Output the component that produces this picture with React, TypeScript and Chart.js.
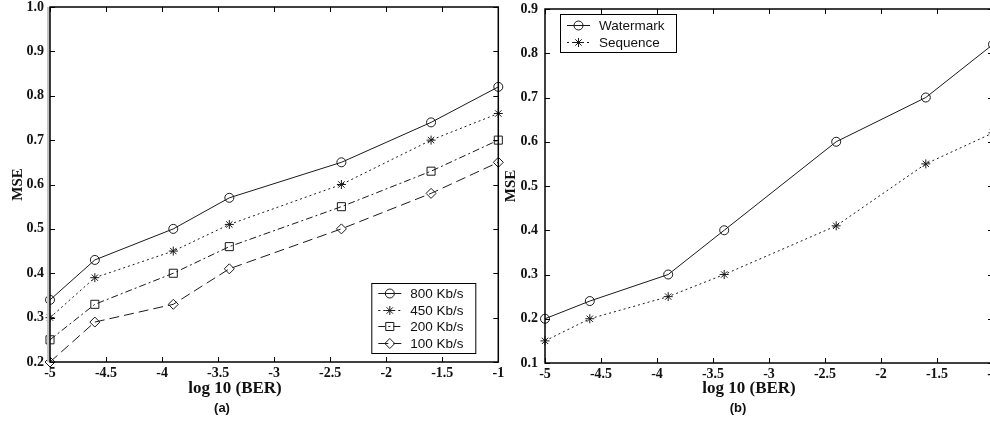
import React, { useEffect, useRef } from 'react';
import { Chart, registerables } from 'chart.js';
import { drawPoint } from 'chart.js/helpers';

Chart.register(...registerables);

// ---- data ----
const berX = [-5, -4.6, -3.9, -3.4, -2.4, -1.6, -1];
const xTicks = [-5, -4.5, -4, -3.5, -3, -2.5, -2, -1.5, -1];
const yTicksA = [0.2, 0.3, 0.4, 0.5, 0.6, 0.7, 0.8, 0.9, 1.0];
const yTicksB = [0.1, 0.2, 0.3, 0.4, 0.5, 0.6, 0.7, 0.8, 0.9];

const mse800 = [0.34, 0.43, 0.5, 0.57, 0.65, 0.74, 0.82];
const mse450 = [0.3, 0.39, 0.45, 0.51, 0.6, 0.7, 0.76];
const mse200 = [0.25, 0.33, 0.4, 0.46, 0.55, 0.63, 0.7];
const mse100 = [0.2, 0.29, 0.33, 0.41, 0.5, 0.58, 0.65];

const watermark = [0.2, 0.24, 0.3, 0.4, 0.6, 0.7, 0.82];
const sequence = [0.15, 0.2, 0.25, 0.3, 0.41, 0.55, 0.62];

const labelsA = ['800 Kb/s', '450 Kb/s', '200 Kb/s', '100 Kb/s'];
const labelsB = ['Watermark', 'Sequence'];
const xTitle = 'log 10 (BER)';
const yTitle = 'MSE';

const SERIF = "'Liberation Serif', 'Times New Roman', serif";
const SANS = "'Liberation Sans', Arial, sans-serif";
const INK = '#1a1a1a';

const pts = (vals: number[]) => berX.map((x, i) => ({ x, y: vals[i] }));

const mkDs = (label: string, vals: number[], style: string, dash: number[], r: number) => ({
  label,
  data: pts(vals),
  borderColor: INK,
  borderWidth: 1,
  borderDash: dash,
  pointStyle: style,
  pointRadius: r,
  pointBorderColor: INK,
  pointBackgroundColor: 'rgba(0,0,0,0)',
  pointBorderWidth: 1,
  tension: 0,
  clip: false as any,
});

// ---- plugins ----
const framePlugin = {
  id: 'frame',
  afterDatasetsDraw(chart: any, _a: any, opts: any) {
    const { ctx, chartArea, scales } = chart;
    const { left, right, top, bottom } = chartArea;
    ctx.save();
    if (opts.shade) {
      ctx.fillStyle = '#c4c4c4';
      ctx.fillRect(left - 3, top, 3, bottom - top);
    }
    ctx.strokeStyle = '#000';
    ctx.lineWidth = 1.5;
    ctx.strokeRect(left, top, right - left, bottom - top);
    ctx.lineWidth = 1;
    const tl = 5;
    ctx.beginPath();
    scales.x.ticks.forEach((t: any) => {
      const px = Math.round(scales.x.getPixelForValue(t.value)) + 0.5;
      ctx.moveTo(px, bottom);
      ctx.lineTo(px, bottom - tl);
      ctx.moveTo(px, top);
      ctx.lineTo(px, top + tl);
    });
    scales.y.ticks.forEach((t: any) => {
      const py = Math.round(scales.y.getPixelForValue(t.value)) + 0.5;
      ctx.moveTo(left, py);
      ctx.lineTo(left + tl, py);
      ctx.moveTo(right, py);
      ctx.lineTo(right - tl, py);
    });
    ctx.stroke();
    ctx.restore();
  },
};

const legendPlugin = {
  id: 'boxLegend',
  afterDraw(chart: any, _a: any, o: any) {
    const { ctx, chartArea: ca } = chart;
    const x0 = o.anchor === 'br' ? ca.right - o.dx - o.w : ca.left + o.dx;
    const y0 = o.anchor === 'br' ? ca.bottom - o.dy - o.h : ca.top + o.dy;
    ctx.save();
    ctx.fillStyle = '#fff';
    ctx.fillRect(x0, y0, o.w, o.h);
    ctx.strokeStyle = '#000';
    ctx.lineWidth = 1;
    ctx.strokeRect(x0 + 0.5, y0 + 0.5, o.w, o.h);
    chart.data.datasets.forEach((ds: any, i: number) => {
      const cy = Math.round(y0 + o.pad + o.row * (i + 0.5)) + 0.5;
      ctx.strokeStyle = INK;
      ctx.setLineDash(ds.borderDash || []);
      ctx.beginPath();
      ctx.moveTo(x0 + 7, cy);
      ctx.lineTo(x0 + 30, cy);
      ctx.stroke();
      ctx.setLineDash([]);
      ctx.fillStyle = 'rgba(0,0,0,0)';
      ctx.lineWidth = 1;
      drawPoint(ctx, { pointStyle: ds.pointStyle, radius: ds.pointRadius, borderWidth: 1, rotation: 0 } as any, x0 + 18.5, cy);
      ctx.fillStyle = '#111';
      ctx.font = `13.5px ${SANS}`;
      ctx.textBaseline = 'middle';
      ctx.textAlign = 'left';
      ctx.fillText(ds.label, x0 + 39, cy + 0.5);
    });
    ctx.restore();
  },
};

const xLabelPlugin = {
  id: 'xLabel',
  afterDraw(chart: any, _a: any, o: any) {
    const { ctx, chartArea: ca } = chart;
    ctx.save();
    ctx.fillStyle = '#111';
    ctx.textAlign = 'center';
    ctx.textBaseline = 'middle';
    ctx.font = `bold 17px ${SERIF}`;
    ctx.fillText(xTitle, ca.left + o.cx1, ca.bottom + o.dy1);
    ctx.font = `bold 13px ${SANS}`;
    ctx.fillText(o.sub, ca.left + o.cx2, ca.bottom + o.dy2);
    ctx.restore();
  },
};

type PanelProps = {
  datasets: any[];
  yTicks: number[];
  yMin: number;
  yMax: number;
  width: number;
  padTop: number;
  padRight: number;
  yWidth: number;
  xHeight: number;
  yLabelPad: number;
  yTitlePad: number;
  legend: any;
  xlab: any;
  shade: boolean;
};

function Panel(p: PanelProps) {
  const ref = useRef<HTMLCanvasElement | null>(null);
  useEffect(() => {
    if (!ref.current) return;
    const tickFont = { family: SERIF, weight: 'bold' as const, size: 14 };
    const chart = new Chart(ref.current, {
      type: 'line',
      data: { datasets: p.datasets },
      plugins: [framePlugin, legendPlugin, xLabelPlugin],
      options: {
        responsive: false,
        animation: false,
        events: [],
        layout: { padding: { top: p.padTop, right: p.padRight, left: 0, bottom: 0 } },
        plugins: {
          legend: { display: false },
          tooltip: { enabled: false },
          frame: { shade: p.shade },
          boxLegend: p.legend,
          xLabel: p.xlab,
        } as any,
        scales: {
          x: {
            type: 'linear',
            min: -5,
            max: -1,
            grid: { display: false, drawTicks: false },
            border: { display: false },
            afterBuildTicks: (s: any) => {
              s.ticks = xTicks.map((v) => ({ value: v }));
            },
            afterFit: (s: any) => {
              s.height = p.xHeight;
              s.paddingLeft = 0;
              s.paddingRight = 0;
            },
            ticks: {
              font: tickFont,
              color: '#111',
              padding: 3,
              maxRotation: 0,
              autoSkip: false,
              callback: (v: any) => String(v),
            },
          },
          y: {
            type: 'linear',
            min: p.yMin,
            max: p.yMax,
            grid: { display: false, drawTicks: false },
            border: { display: false },
            afterBuildTicks: (s: any) => {
              s.ticks = p.yTicks.map((v) => ({ value: v }));
            },
            afterFit: (s: any) => {
              s.width = p.yWidth;
              s.paddingTop = 0;
              s.paddingBottom = 0;
            },
            title: {
              display: true,
              text: yTitle,
              color: '#111',
              font: { family: SERIF, weight: 'bold', size: 15 },
              padding: { top: p.yTitlePad, bottom: 0 },
            },
            ticks: {
              font: tickFont,
              color: '#111',
              padding: p.yLabelPad,
              autoSkip: false,
              callback: (v: any) => Number(v).toFixed(1),
            },
          },
        },
      } as any,
    });
    return () => chart.destroy();
  }, []);
  return <canvas ref={ref} width={p.width} height={421} style={{ display: 'block', width: p.width, height: 421 }} />;
}

export default function App() {
  const dsA = [
    mkDs(labelsA[0], mse800, 'circle', [], 4.5),
    mkDs(labelsA[1], mse450, 'star', [2, 3], 4.5),
    mkDs(labelsA[2], mse200, 'rect', [7, 3, 2, 3], 5.7),
    mkDs(labelsA[3], mse100, 'rectRot', [10, 5], 5),
  ];
  const dsB = [
    mkDs(labelsB[0], watermark, 'circle', [], 4.5),
    mkDs(labelsB[1], sequence, 'star', [2, 3], 4.5),
  ];
  return (
    <div style={{ position: 'absolute', left: 0, top: 0, width: 990, height: 421, overflow: 'hidden', background: '#fff' }}>
      <div style={{ position: 'absolute', left: 0, top: 0 }}>
        <Panel
          datasets={dsA}
          yTicks={yTicksA}
          yMin={0.2}
          yMax={1.0}
          width={505}
          padTop={7}
          padRight={5}
          yWidth={50}
          xHeight={59}
          yLabelPad={6}
          yTitlePad={9}
          shade={true}
          legend={{ anchor: 'br', dx: 23, dy: 9, w: 104, h: 70, pad: 2, row: 16.5 }}
          xlab={{ cx1: 185, dy1: 27, cx2: 172, dy2: 46, sub: '(a)' }}
        />
      </div>
      <div style={{ position: 'absolute', left: 500, top: 0 }}>
        <Panel
          datasets={dsB}
          yTicks={yTicksB}
          yMin={0.1}
          yMax={0.9}
          width={500}
          padTop={9}
          padRight={7}
          yWidth={45}
          xHeight={58}
          yLabelPad={7}
          yTitlePad={2}
          shade={false}
          legend={{ anchor: 'tl', dx: 15, dy: 5, w: 116, h: 38, pad: 2, row: 17 }}
          xlab={{ cx1: 204, dy1: 26, cx2: 193, dy2: 45, sub: '(b)' }}
        />
      </div>
    </div>
  );
}
